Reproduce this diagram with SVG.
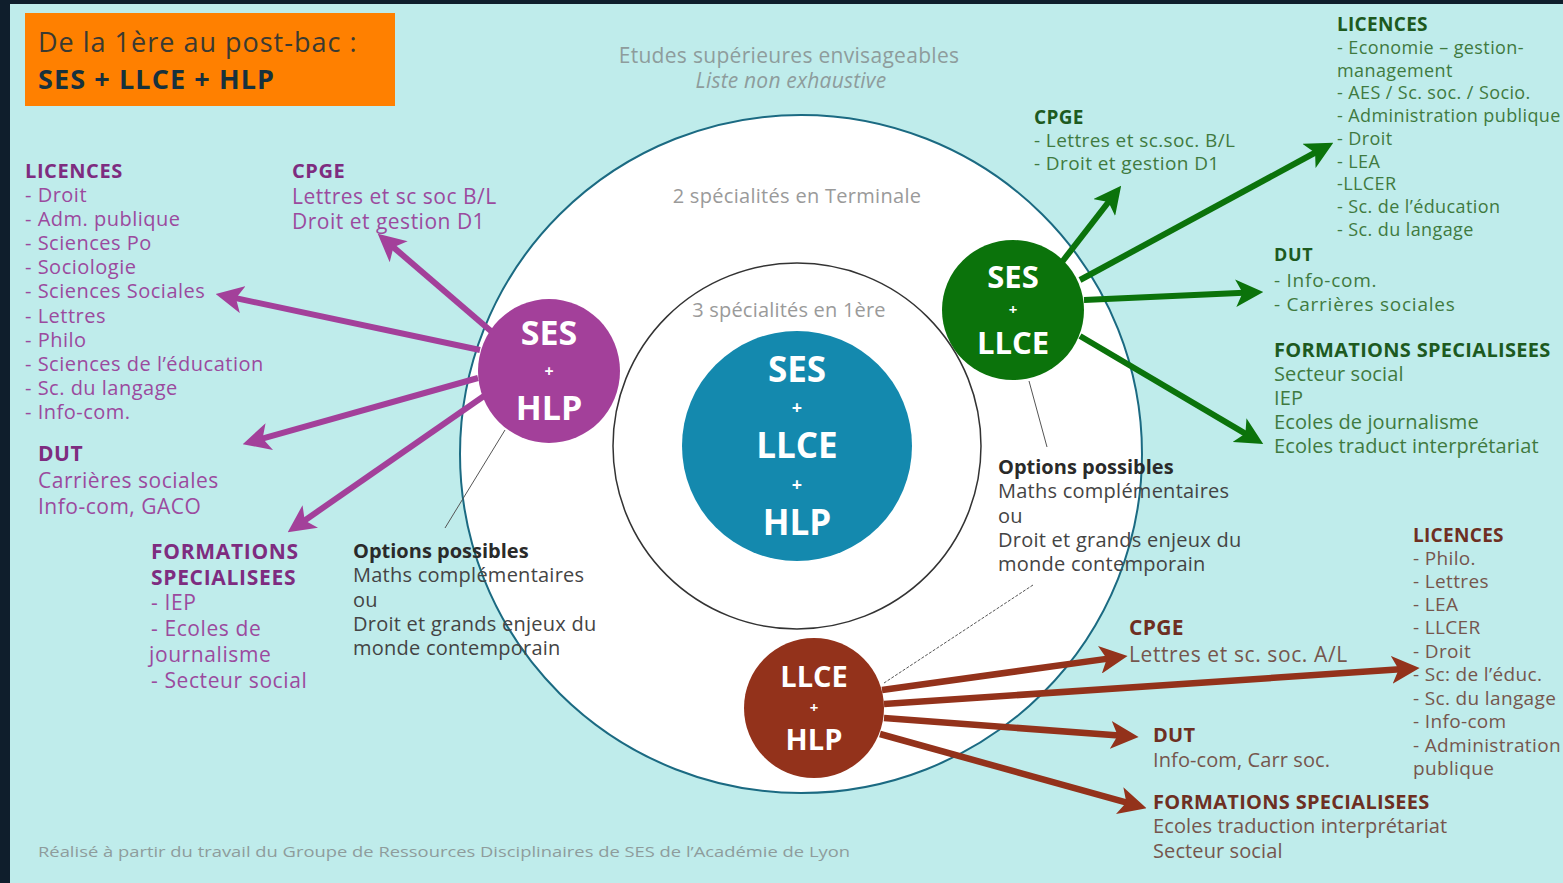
<svg xmlns="http://www.w3.org/2000/svg" width="1563" height="883" viewBox="0 0 1563 883">
<style>
text{font-family:"Open Sans",Lato,"Liberation Sans",sans-serif}
.nt{fill:#ffffff;font-weight:bold;text-anchor:middle}
.hd{font-weight:bold}
.pu{fill:#7e2c80}
.pi{fill:#9b4a9e}
.gh{fill:#1d5a1f}
.gi{fill:#3f7a40}
.bh{fill:#6e2f22}
.bi{fill:#76564d}
.op{fill:#444}
.oh{fill:#2a2a2a;font-weight:bold}
.gray{fill:#8e9c9c}
.lead{stroke:#555;stroke-width:1;fill:none}
.ap{stroke:#a3409a;stroke-width:6;fill:none}
.ag{stroke:#0b730b;stroke-width:6;fill:none}
.ab{stroke:#93321b;stroke-width:6.5;fill:none}
</style>
<defs>
<marker id="mp" viewBox="0 0 10 10" refX="3" refY="5" markerWidth="4.6" markerHeight="4.6" markerUnits="strokeWidth" orient="auto"><path d="M0,0 L10,5 L0,10 L2.5,5 z" fill="#a3409a"/></marker>
<marker id="mg" viewBox="0 0 10 10" refX="3" refY="5" markerWidth="4.6" markerHeight="4.6" markerUnits="strokeWidth" orient="auto"><path d="M0,0 L10,5 L0,10 L2.5,5 z" fill="#0b730b"/></marker>
<marker id="mb" viewBox="0 0 10 10" refX="3" refY="5" markerWidth="4.3" markerHeight="4.3" markerUnits="strokeWidth" orient="auto"><path d="M0,0 L10,5 L0,10 L2.5,5 z" fill="#93321b"/></marker>
</defs>
<rect x="0" y="0" width="1563" height="883" fill="#0f1e2c"/>
<rect x="10" y="4" width="1553" height="879" fill="#bfeceb"/>

<g id="title">
<rect x="25" y="13" width="370" height="93" fill="#ff8000"/>
<text x="38" y="52" font-size="27" fill="#3a3a32" letter-spacing="1">De la 1ère au post-bac :</text>
<text x="38" y="89" font-size="27" font-weight="bold" fill="#17313d" letter-spacing="1.1">SES + LLCE + HLP</text>
</g>

<g id="header">
<text x="789" y="63" font-size="21" text-anchor="middle" class="gray" letter-spacing="0.3">Etudes supérieures envisageables</text>
<text x="791" y="88" font-size="21" text-anchor="middle" font-style="italic" class="gray" letter-spacing="0.2">Liste non exhaustive</text>
</g>

<g id="terminale">
<ellipse cx="801" cy="454" rx="341" ry="339" fill="#ffffff" stroke="#1b6a82" stroke-width="2"/>
<text x="797" y="203" font-size="20" text-anchor="middle" fill="#9a9a9a" letter-spacing="0.3">2 spécialités en Terminale</text>
</g>

<g id="premiere">
<ellipse cx="797" cy="446" rx="184" ry="183" fill="#ffffff" stroke="#333" stroke-width="1.5"/>
<text x="789" y="317" font-size="20" text-anchor="middle" fill="#9a9a9a" letter-spacing="0.2">3 spécialités en 1ère</text>
</g>

<g id="leaders">
<line class="lead" x1="505" y1="430" x2="445" y2="528"/>
<line class="lead" x1="1029" y1="381" x2="1047" y2="447"/>
<line class="lead" x1="1033" y1="585" x2="884" y2="683" stroke-dasharray="3 1.5"/>
</g>

<g id="connectors">
<line class="ap" x1="492" y1="332" x2="392.4" y2="246.4" marker-end="url(#mp)"/>
<line class="ap" x1="480" y1="350" x2="234.6" y2="297.9" marker-end="url(#mp)"/>
<line class="ap" x1="478" y1="378" x2="261.3" y2="438.9" marker-end="url(#mp)"/>
<line class="ap" x1="484" y1="396" x2="303.6" y2="521.2" marker-end="url(#mp)"/>
<line class="ag" x1="1062" y1="262" x2="1109.3" y2="201" marker-end="url(#mg)"/>
<line class="ag" x1="1080" y1="280" x2="1316.3" y2="152" marker-end="url(#mg)"/>
<line class="ag" x1="1084" y1="300" x2="1244" y2="292.8" marker-end="url(#mg)"/>
<line class="ag" x1="1080" y1="336" x2="1246.6" y2="434.3" marker-end="url(#mg)"/>
<line class="ab" x1="882" y1="690" x2="1108.2" y2="658.6" marker-end="url(#mb)"/>
<line class="ab" x1="884" y1="704" x2="1400.1" y2="669.3" marker-end="url(#mb)"/>
<line class="ab" x1="884" y1="718" x2="1119.1" y2="735.6" marker-end="url(#mb)"/>
<line class="ab" x1="880" y1="734" x2="1127.7" y2="802.9" marker-end="url(#mb)"/>
</g>

<g id="node-center">
<ellipse cx="797" cy="446" rx="115" ry="115" fill="#1489ae"/>
<text class="nt" x="797" y="382" font-size="35">SES</text>
<text class="nt" x="797" y="414" font-size="18">+</text>
<text class="nt" x="797" y="458" font-size="35">LLCE</text>
<text class="nt" x="797" y="491" font-size="18">+</text>
<text class="nt" x="797" y="535" font-size="35">HLP</text>
</g>

<g id="node-ses-hlp">
<ellipse cx="549" cy="371" rx="71" ry="72" fill="#a3409a"/>
<text class="nt" x="549" y="345" font-size="34">SES</text>
<text class="nt" x="549" y="377" font-size="16">+</text>
<text class="nt" x="549" y="420" font-size="34">HLP</text>
</g>

<g id="node-ses-llce">
<ellipse cx="1013" cy="310" rx="71" ry="70" fill="#0b730b"/>
<text class="nt" x="1013" y="288" font-size="31">SES</text>
<text class="nt" x="1013" y="315" font-size="15">+</text>
<text class="nt" x="1013" y="354" font-size="31">LLCE</text>
</g>

<g id="node-llce-hlp">
<ellipse cx="814" cy="708" rx="70" ry="70" fill="#93321b"/>
<text class="nt" x="814" y="687" font-size="29">LLCE</text>
<text class="nt" x="814" y="713" font-size="15">+</text>
<text class="nt" x="814" y="750" font-size="29">HLP</text>
</g>

<g id="options-left">
<text x="353" y="558" font-size="20" class="oh">Options possibles</text>
<text font-size="20" class="op" letter-spacing="0.25"><tspan x="353" y="582">Maths complémentaires</tspan><tspan x="353" y="607">ou</tspan><tspan x="353" y="631">Droit et grands enjeux du</tspan><tspan x="353" y="655">monde contemporain</tspan></text>
</g>

<g id="options-right">
<text x="998" y="474" font-size="20" class="oh">Options possibles</text>
<text font-size="20" class="op" letter-spacing="0.25"><tspan x="998" y="498">Maths complémentaires</tspan><tspan x="998" y="523">ou</tspan><tspan x="998" y="547">Droit et grands enjeux du</tspan><tspan x="998" y="571">monde contemporain</tspan></text>
</g>

<g id="purple-licences">
<text x="25" y="178" font-size="20" class="hd pu" letter-spacing="0.6">LICENCES</text>
<text font-size="20" class="pi" letter-spacing="0.5"><tspan x="25" y="202">- Droit</tspan><tspan x="25" y="226">- Adm. publique</tspan><tspan x="25" y="250">- Sciences Po</tspan><tspan x="25" y="274">- Sociologie</tspan><tspan x="25" y="298">- Sciences Sociales</tspan><tspan x="25" y="323">- Lettres</tspan><tspan x="25" y="347">- Philo</tspan><tspan x="25" y="371">- Sciences de l’éducation</tspan><tspan x="25" y="395">- Sc. du langage</tspan><tspan x="25" y="419">- Info-com.</tspan></text>
</g>

<g id="purple-cpge">
<text x="292" y="178" font-size="20" class="hd pu" letter-spacing="0.6">CPGE</text>
<text font-size="21" class="pi" letter-spacing="0.5"><tspan x="292" y="204">Lettres et sc soc B/L</tspan><tspan x="292" y="229">Droit et gestion D1</tspan></text>
</g>

<g id="purple-dut">
<text x="38" y="461" font-size="21" class="hd pu" letter-spacing="0.5">DUT</text>
<text font-size="21" class="pi" letter-spacing="0.5"><tspan x="38" y="488">Carrières sociales</tspan><tspan x="38" y="514">Info-com, GACO</tspan></text>
</g>

<g id="purple-formations">
<text font-size="21" class="hd pu" letter-spacing="0.7"><tspan x="151" y="559">FORMATIONS</tspan><tspan x="151" y="585">SPECIALISEES</tspan></text>
<text font-size="21" class="pi" letter-spacing="0.6"><tspan x="151" y="610">- IEP</tspan><tspan x="151" y="636">- Ecoles de</tspan><tspan x="149" y="662">journalisme</tspan><tspan x="151" y="688">- Secteur social</tspan></text>
</g>

<g id="green-cpge">
<text x="1034" y="124" font-size="19" class="hd gh" letter-spacing="0.3">CPGE</text>
<text font-size="19" class="gi" letter-spacing="0.4"><tspan x="1034" y="147">- Lettres et sc.soc. B/L</tspan><tspan x="1034" y="170">- Droit et gestion D1</tspan></text>
</g>

<g id="green-licences">
<text x="1337" y="31" font-size="19" class="hd gh" letter-spacing="0.3">LICENCES</text>
<text font-size="18" class="gi" letter-spacing="0.4"><tspan x="1337" y="54">- Economie – gestion-</tspan><tspan x="1337" y="76.7">management</tspan><tspan x="1337" y="99.4">- AES / Sc. soc. / Socio.</tspan><tspan x="1337" y="122.1">- Administration publique</tspan><tspan x="1337" y="144.8">- Droit</tspan><tspan x="1337" y="167.5">- LEA</tspan><tspan x="1337" y="190.2">-LLCER</tspan><tspan x="1337" y="212.9">- Sc. de l’éducation</tspan><tspan x="1337" y="235.6">- Sc. du langage</tspan></text>
</g>

<g id="green-dut">
<text x="1274" y="261" font-size="18" class="hd gh" letter-spacing="0.6">DUT</text>
<text font-size="19" class="gi" letter-spacing="0.75"><tspan x="1274" y="287">- Info-com.</tspan><tspan x="1274" y="311">- Carrières sociales</tspan></text>
</g>

<g id="green-formations">
<text x="1274" y="357" font-size="20" class="hd gh" letter-spacing="0.3">FORMATIONS SPECIALISEES</text>
<text font-size="20" class="gi" letter-spacing="0.1"><tspan x="1274" y="381">Secteur social</tspan><tspan x="1274" y="405">IEP</tspan><tspan x="1274" y="429">Ecoles de journalisme</tspan><tspan x="1274" y="453">Ecoles traduct interprétariat</tspan></text>
</g>

<g id="brown-cpge">
<text x="1129" y="635" font-size="21" class="hd bh" letter-spacing="0.3">CPGE</text>
<text x="1129" y="662" font-size="21" class="bi" letter-spacing="0.6">Lettres et sc. soc. A/L</text>
</g>

<g id="brown-licences">
<text x="1413" y="542" font-size="19" class="hd bh" letter-spacing="0.3">LICENCES</text>
<text font-size="19" class="bi" letter-spacing="0.35"><tspan x="1413" y="565">- Philo.</tspan><tspan x="1413" y="588">- Lettres</tspan><tspan x="1413" y="611">- LEA</tspan><tspan x="1413" y="634">- LLCER</tspan><tspan x="1413" y="658">- Droit</tspan><tspan x="1413" y="681">- Sc: de l’éduc.</tspan><tspan x="1413" y="705">- Sc. du langage</tspan><tspan x="1413" y="728">- Info-com</tspan><tspan x="1413" y="752">- Administration</tspan><tspan x="1413" y="775">publique</tspan></text>
</g>

<g id="brown-dut">
<text x="1153" y="742" font-size="20" class="hd bh" letter-spacing="0.3">DUT</text>
<text x="1153" y="767" font-size="20" class="bi" letter-spacing="0.1">Info-com, Carr soc.</text>
</g>

<g id="brown-formations">
<text x="1153" y="809" font-size="20" class="hd bh" letter-spacing="0.3">FORMATIONS SPECIALISEES</text>
<text font-size="20" class="bi" letter-spacing="0.1"><tspan x="1153" y="833">Ecoles traduction interprétariat</tspan><tspan x="1153" y="858">Secteur social</tspan></text>
</g>

<g id="footer">
<text x="38" y="857" font-size="15" class="gray" textLength="812" lengthAdjust="spacingAndGlyphs">Réalisé à partir du travail du Groupe de Ressources Disciplinaires de SES de l’Académie de Lyon</text>
</g>
</svg>
